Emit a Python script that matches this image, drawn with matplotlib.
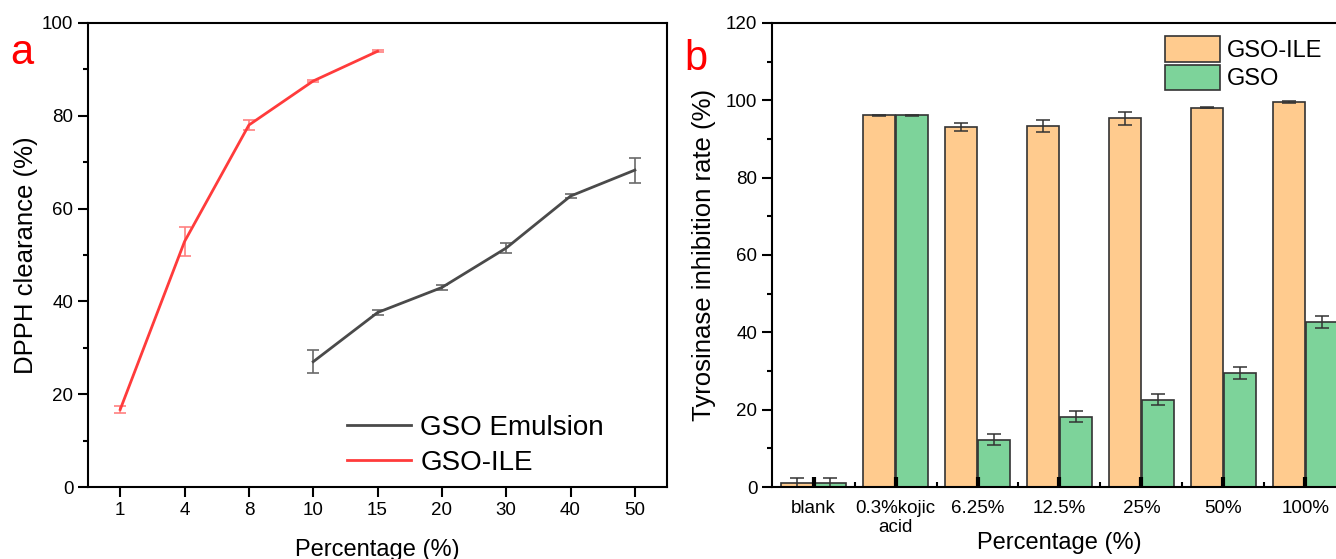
import matplotlib
matplotlib.use("Agg")
import matplotlib.pyplot as plt
import numpy as np
from matplotlib.ticker import MultipleLocator
from matplotlib.lines import Line2D

plt.rcParams['font.family'] = ['Liberation Sans', 'DejaVu Sans']

# Panel a data
a_cats = ['1', '4', '8', '10', '15', '20', '30', '40', '50']
ile_x = ['1', '4', '8', '10', '15']
ile_y = [16.7, 52.9, 78.0, 87.5, 93.9]
ile_err = [0.85, 3.2, 1.0, 0.3, 0.2]
emu_x = ['10', '15', '20', '30', '40', '50']
emu_y = [27.0, 37.6, 43.0, 51.5, 62.7, 68.3]
emu_err = [2.5, 0.5, 0.6, 1.0, 0.5, 2.7]

# Panel b data
b_cats = ['blank', '0.3%kojic\nacid', '6.25%', '12.5%', '25%', '50%', '100%']
gso_ile = [1.0, 96.1, 93.1, 93.4, 95.3, 98.1, 99.6]
gso_ile_err = [1.2, 0.2, 1.1, 1.5, 1.75, 0.2, 0.3]
gso = [1.0, 96.1, 12.2, 18.2, 22.6, 29.5, 42.6]
gso_err = [1.2, 0.2, 1.4, 1.5, 1.4, 1.5, 1.6]

EMU_C = '#4a4a4a'
ILE_C = '#ff3b3b'

fig = plt.figure(figsize=(13.36, 5.59), dpi=100)

# ---------- panel a ----------
axa = fig.add_axes([0.0659, 0.1288, 0.4334, 0.8301])
pos = {c: i for i, c in enumerate(a_cats)}
xe = [pos[c] for c in emu_x]
xi = [pos[c] for c in ile_x]
axa.errorbar(xe, emu_y, yerr=emu_err, color=EMU_C, lw=2, ecolor='#6a6a6a',
             elinewidth=1.2, capsize=4, capthick=1.2)
axa.errorbar(xi, ile_y, yerr=ile_err, color=ILE_C, lw=2, ecolor='#ff8080',
             elinewidth=1.2, capsize=4, capthick=1.2)
axa.set_xlim(-0.5, 8.5)
axa.set_ylim(0, 100)
axa.set_xticks(range(len(a_cats)))
axa.set_xticklabels(a_cats)
axa.yaxis.set_major_locator(MultipleLocator(20))
axa.yaxis.set_minor_locator(MultipleLocator(10))
axa.tick_params(axis='both', which='major', direction='out', length=7, width=1.5, labelsize=13.5)
axa.tick_params(axis='y', which='minor', direction='out', length=3.5, width=1.5)
for s in axa.spines.values():
    s.set_linewidth(1.5)
axa.set_xlabel('Percentage (%)', fontsize=17, labelpad=15)
axa.set_ylabel('DPPH clearance (%)', fontsize=18.5, labelpad=3)
handles = [Line2D([], [], color=EMU_C, lw=2), Line2D([], [], color=ILE_C, lw=2)]
axa.legend(handles, ['GSO Emulsion', 'GSO-ILE'], loc='lower left', frameon=False,
           fontsize=20, handlelength=2.3, handletextpad=0.35, labelspacing=0.32,
           bbox_to_anchor=(0.447, 0.024), borderaxespad=0, borderpad=0)
fig.text(0.008, 0.885, 'a', color='red', fontsize=30)

# ---------- panel b ----------
axb = fig.add_axes([0.5778, 0.1288, 0.4304, 0.8301])
xb = np.arange(len(b_cats))
w = 0.39
axb.bar(xb - w / 2 - 0.005, gso_ile, w, yerr=gso_ile_err, color='#ffcb8e', edgecolor='#333333',
        linewidth=1.2, capsize=5, error_kw=dict(elinewidth=1.1, capthick=1.1, ecolor='#333333'),
        label='GSO-ILE')
axb.bar(xb + w / 2 + 0.005, gso, w, yerr=gso_err, color='#7dd39a', edgecolor='#333333',
        linewidth=1.2, capsize=5, error_kw=dict(elinewidth=1.1, capthick=1.1, ecolor='#333333'),
        label='GSO')
axb.set_xlim(-0.51, 6.51)
axb.set_ylim(0, 120)
axb.set_xticks(xb)
axb.set_xticklabels(b_cats, fontsize=13.5)
axb.set_xticks(xb[:-1] + 0.5, minor=True)
axb.yaxis.set_major_locator(MultipleLocator(20))
axb.yaxis.set_minor_locator(MultipleLocator(10))
axb.tick_params(axis='y', which='major', direction='out', length=7, width=1.5, labelsize=13.5)
axb.tick_params(axis='y', which='minor', direction='out', length=3.5, width=1.5)
axb.tick_params(axis='x', which='major', direction='in', length=7, width=3, pad=9)
axb.tick_params(axis='x', which='minor', direction='in', length=3.5, width=1.5)
for s in axb.spines.values():
    s.set_linewidth(1.5)
axb.set_xlabel('Percentage (%)', fontsize=17, labelpad=-3)
axb.set_ylabel('Tyrosinase inhibition rate (%)', fontsize=18.5, labelpad=7)
axb.legend(loc='upper left', frameon=False, fontsize=17, handlelength=2.3, handleheight=1.3,
           handletextpad=0.3, labelspacing=0.12, bbox_to_anchor=(0.684, 0.972),
           borderaxespad=0, borderpad=0)
fig.text(0.512, 0.875, 'b', color='red', fontsize=30)

fig.savefig('out.png', dpi=100)
